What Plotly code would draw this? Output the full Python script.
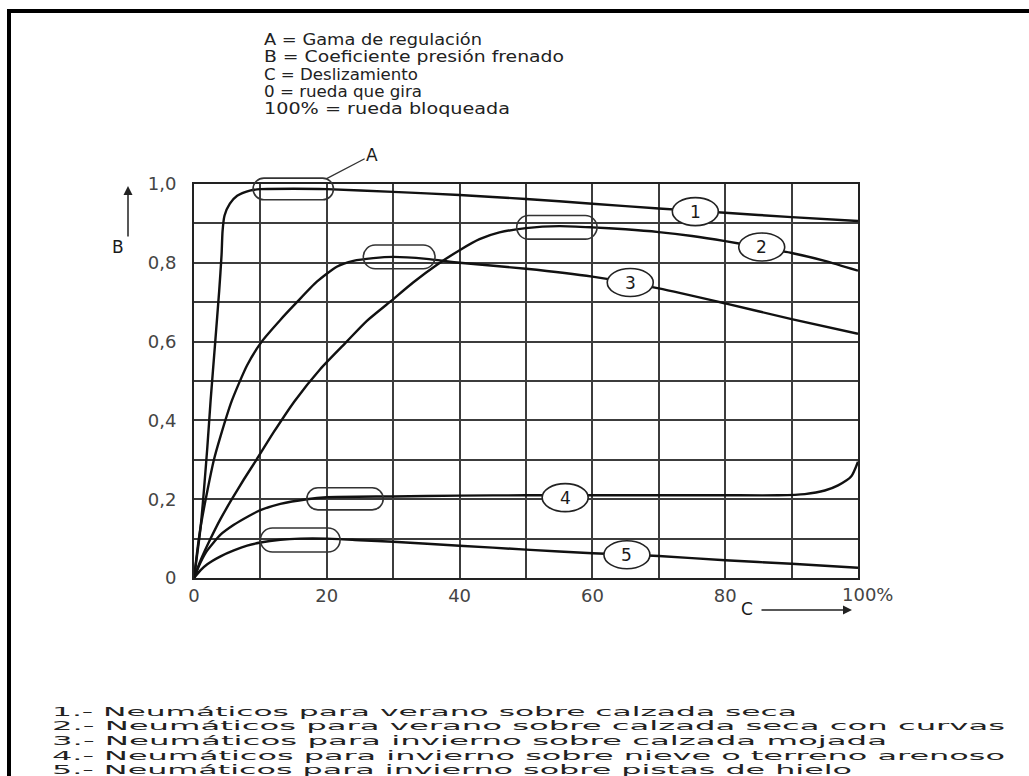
import json
import plotly.graph_objects as go

# ---------------- data ----------------
c1_x = [0, 1, 2, 2.5, 3.2, 3.8, 4.15, 4.3, 4.6, 5.4, 6.5, 8.4, 10, 15, 20, 30, 40, 50, 60, 70, 80, 90, 100]
c1_b = [0, 0.13, 0.33, 0.45, 0.6, 0.73, 0.82, 0.88, 0.92, 0.95, 0.97, 0.983, 0.987, 0.988, 0.987, 0.98, 0.972, 0.962, 0.95, 0.938, 0.927, 0.916, 0.906]

c2_x = [0, 1, 2.5, 4, 5.7, 7.5, 9.4, 12, 15.2, 19, 23, 26, 29.6, 33, 36.6, 40, 43, 46, 50, 55, 60, 65, 70, 75, 80, 85, 90, 95, 100]
c2_b = [0, 0.045, 0.1, 0.15, 0.2, 0.25, 0.3, 0.37, 0.45, 0.53, 0.6, 0.652, 0.702, 0.75, 0.795, 0.832, 0.86, 0.877, 0.888, 0.893, 0.89, 0.885, 0.878, 0.868, 0.855, 0.84, 0.825, 0.805, 0.78]

c3_x = [0, 0.5, 1, 2, 3, 4, 5.7, 8, 10.2, 13, 15.5, 18.5, 21.5, 24, 27, 30, 35, 40, 50, 60, 70, 80, 90, 100]
c3_b = [0, 0.07, 0.13, 0.22, 0.3, 0.36, 0.45, 0.54, 0.6, 0.655, 0.7, 0.752, 0.79, 0.805, 0.812, 0.815, 0.81, 0.8, 0.785, 0.765, 0.735, 0.697, 0.657, 0.62]

c4_x = [0, 1, 2, 4, 6, 8, 10, 13, 17, 20, 30, 40, 50, 60, 70, 80, 88, 92, 95, 97, 99, 100]
c4_b = [0, 0.04, 0.07, 0.11, 0.135, 0.155, 0.172, 0.188, 0.2, 0.205, 0.207, 0.209, 0.21, 0.21, 0.21, 0.21, 0.21, 0.213, 0.222, 0.235, 0.258, 0.295]

c5_x = [0, 1, 2, 4, 6, 8, 10, 13, 16, 20, 25, 30, 40, 50, 60, 70, 80, 90, 100]
c5_b = [0, 0.02, 0.035, 0.055, 0.07, 0.082, 0.09, 0.097, 0.1, 0.1, 0.096, 0.092, 0.082, 0.072, 0.063, 0.056, 0.045, 0.036, 0.026]

curve_names = ["1", "2", "3", "4", "5"]

# circled curve numbers (centre: slip %, coefficient)
label_x = [75.5, 85.5, 65.7, 55.9, 65.2]
label_b = [0.93, 0.84, 0.75, 0.204, 0.059]

# regulation-range capsules (slip from/to, coefficient from/to)
cap_x0 = [8.9, 25.5, 48.6, 17, 10]
cap_x1 = [21, 36.3, 60.7, 28.5, 22]
cap_b0 = [0.96, 0.785, 0.86, 0.173, 0.066]
cap_b1 = [1.015, 0.845, 0.92, 0.229, 0.127]

x_tickvals = [0, 10, 20, 30, 40, 50, 60, 70, 80, 90, 100]
x_ticktext = ["0", "", "20", "", "40", "", "60", "", "80", "", ""]
y_tickvals = [0, 0.1, 0.2, 0.3, 0.4, 0.5, 0.6, 0.7, 0.8, 0.9, 1.0]
y_ticktext = ["0", "", "0,2", "", "0,4", "", "0,6", "", "0,8", "", "1,0"]

header_lines = [
    "A = Gama de regulación",
    "B = Coeficiente presión frenado",
    "C = Deslizamiento",
    "0 = rueda que gira",
    "100% = rueda bloqueada",
]
footer_lines = [
    "1.- Neumáticos para verano sobre calzada seca",
    "2.- Neumáticos para verano sobre calzada seca con curvas",
    "3.- Neumáticos para invierno sobre calzada mojada",
    "4.- Neumáticos para invierno sobre nieve o terreno arenoso",
    "5.- Neumáticos para invierno sobre pistas de hielo",
]

# ---------------- layout geometry ----------------
W, H = 1029, 776
ML, MR, MT, MB = 194, 171, 184, 198
PW = W - ML - MR
PH = H - MT - MB
XR = [0, 100]
YR = [0, 1]
FONT = "DejaVu Sans"
INK = "#1a1a1a"

# rendered text widths in the picture (px) – the scan's lettering is wide
header_widths = [218, 300, 154, 158, 246]
footer_widths = [745, 953, 835, 953, 800]


def px_x(p):
    return (p - ML) / PW


def px_y(p):
    return (H - MB - p) / PH


def dx(v):
    return (v - XR[0]) / (XR[1] - XR[0])


def dy(v):
    return (v - YR[0]) / (YR[1] - YR[0])


fig = go.Figure()
for xs, bs, nm in [(c1_x, c1_b, curve_names[0]), (c2_x, c2_b, curve_names[1]),
                   (c3_x, c3_b, curve_names[2]), (c4_x, c4_b, curve_names[3]),
                   (c5_x, c5_b, curve_names[4])]:
    fig.add_trace(go.Scatter(x=xs, y=bs, mode="lines", name=nm,
                             line=dict(color="#111", width=2.4, shape="spline", smoothing=0.6),
                             hoverinfo="skip", showlegend=False))

shapes = []
# capsules
k = 0.5523
for x0, x1, b0, b1 in zip(cap_x0, cap_x1, cap_b0, cap_b1):
    X0, X1, Y0, Y1 = dx(x0), dx(x1), dy(b0), dy(b1)
    ry = (Y1 - Y0) / 2
    rx = ry * PH / PW
    Ym = (Y0 + Y1) / 2
    pts = [
        f"M{X0+rx},{Y1}", f"L{X1-rx},{Y1}",
        f"C{X1-rx+k*rx},{Y1} {X1},{Ym+k*ry} {X1},{Ym}",
        f"C{X1},{Ym-k*ry} {X1-rx+k*rx},{Y0} {X1-rx},{Y0}",
        f"L{X0+rx},{Y0}",
        f"C{X0+rx-k*rx},{Y0} {X0},{Ym-k*ry} {X0},{Ym}",
        f"C{X0},{Ym+k*ry} {X0+rx-k*rx},{Y1} {X0+rx},{Y1}", "Z",
    ]
    shapes.append(dict(type="path", xref="paper", yref="paper", path=" ".join(pts),
                       line=dict(color="#333", width=1.6), fillcolor="rgba(0,0,0,0)", layer="above"))

# circled numbers
for lx, lb in zip(label_x, label_b):
    cx, cy = dx(lx), dy(lb)
    shapes.append(dict(type="circle", xref="paper", yref="paper",
                       x0=cx - 23 / PW, x1=cx + 23 / PW, y0=cy - 14 / PH, y1=cy + 14 / PH,
                       line=dict(color="#222", width=1.6), fillcolor="white", layer="above"))

# frame border of the picture
shapes.append(dict(type="line", xref="paper", yref="paper", x0=px_x(9), x1=px_x(9),
                   y0=px_y(H + 5), y1=px_y(9), line=dict(color="black", width=4)))
shapes.append(dict(type="line", xref="paper", yref="paper", x0=px_x(7), x1=px_x(W + 5),
                   y0=px_y(11), y1=px_y(11), line=dict(color="black", width=4)))

annotations = []
for nm, lx, lb in zip(curve_names, label_x, label_b):
    annotations.append(dict(x=lx, y=lb, xref="x", yref="y", text=nm, showarrow=False,
                            xanchor="center", yanchor="middle",
                            font=dict(family=FONT, size=17, color=INK)))

# header
for i, t in enumerate(header_lines):
    annotations.append(dict(x=px_x(262), y=px_y(40 + 17.3 * i), xref="paper", yref="paper",
                            text=t, showarrow=False, xanchor="left", yanchor="middle",
                            font=dict(family=FONT, size=15, color="#222")))
# footer
for i, t in enumerate(footer_lines):
    annotations.append(dict(x=px_x(50), y=px_y(711 + 14.7 * i), xref="paper", yref="paper",
                            text=t, showarrow=False, xanchor="left", yanchor="middle",
                            font=dict(family=FONT, size=13, color="#222")))

# "A" leader
annotations.append(dict(x=19.9, y=dy(1.013), xref="x", yref="paper", text="A", showarrow=True,
                        arrowhead=0, arrowwidth=1.3, arrowcolor="#333", ax=46, ay=-24,
                        font=dict(family=FONT, size=17, color=INK)))
# B axis arrow
annotations.append(dict(x=px_x(128), y=px_y(186), xref="paper", yref="paper", text="",
                        showarrow=True, arrowhead=2, arrowsize=1.2, arrowwidth=1.5,
                        arrowcolor="#222", ax=0, ay=52))
annotations.append(dict(x=px_x(118), y=px_y(247), xref="paper", yref="paper", text="B",
                        showarrow=False, xanchor="center", yanchor="middle",
                        font=dict(family=FONT, size=17, color=INK)))
# C axis arrow
annotations.append(dict(x=px_x(852), y=px_y(610), xref="paper", yref="paper", text="",
                        showarrow=True, arrowhead=2, arrowsize=1.2, arrowwidth=1.5,
                        arrowcolor="#222", ax=-92, ay=0))
annotations.append(dict(x=px_x(747), y=px_y(609), xref="paper", yref="paper", text="C",
                        showarrow=False, xanchor="center", yanchor="middle",
                        font=dict(family=FONT, size=17, color=INK)))
# 100% end label
annotations.append(dict(x=100, y=0, xref="x", yref="paper", text="100%", showarrow=False,
                        xanchor="left", yanchor="top", xshift=-18, yshift=-4,
                        font=dict(family=FONT, size=18, color="#444")))

axis_common = dict(showline=True, mirror=True, linecolor="#222", linewidth=2,
                   showgrid=True, gridcolor="#3c3c3c", gridwidth=1.5, zeroline=False,
                   ticks="", tickfont=dict(family=FONT, size=18, color="#444"), fixedrange=True)

fig.update_layout(
    width=W, height=H, autosize=False,
    margin=dict(l=ML, r=MR, t=MT, b=MB, autoexpand=False),
    paper_bgcolor="white", plot_bgcolor="white",
    xaxis=dict(range=XR, tickvals=x_tickvals, ticktext=x_ticktext, **axis_common),
    yaxis=dict(range=YR, tickvals=y_tickvals, ticktext=y_ticktext, ticklabelstandoff=12, **axis_common),
    shapes=shapes, annotations=annotations, showlegend=False,
)

targets = dict(zip(header_lines, header_widths))
targets.update(dict(zip(footer_lines, footer_widths)))
post = """
(function(){
  document.body.style.margin = '0';
  document.body.style.overflow = 'hidden';
  var gd = document.getElementById('{plot_id}');
  var targets = TARGETS;
  function stretch(){
    var nodes = gd.querySelectorAll('text.annotation-text');
    nodes.forEach(function(t){
      var key = t.textContent || '';
      if (targets.hasOwnProperty(key)) {
        var bb = t.getBBox();
        t.setAttribute('text-anchor', 'start');
        t.setAttribute('x', bb.x);
        t.setAttribute('textLength', targets[key]);
        t.setAttribute('lengthAdjust', 'spacingAndGlyphs');
      }
    });
  }
  stretch();
  gd.on('plotly_afterplot', stretch);
})();
""".replace("TARGETS", json.dumps(targets))

fig.write_html("out.html", post_script=post, config={"displayModeBar": False})
